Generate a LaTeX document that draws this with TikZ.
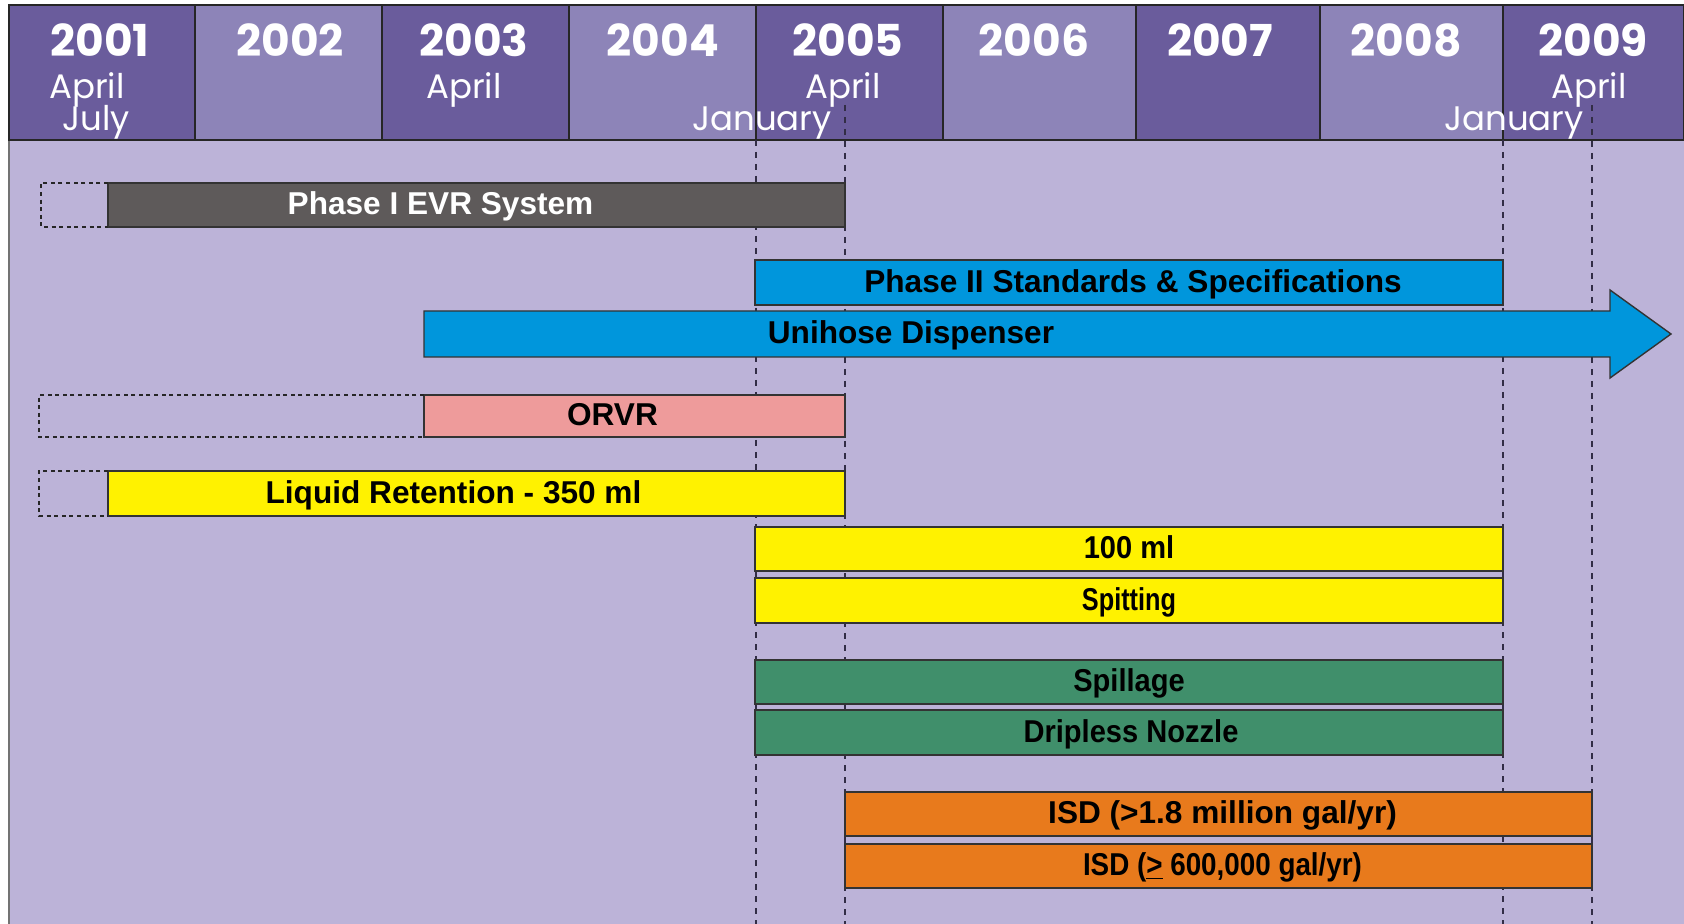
\documentclass[tikz,border=0pt]{standalone}
\usepackage{fontspec}
\setmainfont{Liberation Sans}
\newfontfamily\hdfont{Poppins}
\newfontfamily\narrowfont[FakeStretch=0.92]{Liberation Sans}
\newfontfamily\narrowisdfont[FakeStretch=0.88]{Liberation Sans}
\newfontfamily\narrowerfont[FakeStretch=0.8]{Liberation Sans}
\definecolor{hdark}{RGB}{106,92,156}
\definecolor{hlight}{RGB}{141,132,184}
\definecolor{bodyc}{RGB}{188,179,216}
\definecolor{evrgray}{RGB}{94,90,90}
\definecolor{stdblue}{RGB}{0,150,220}
\definecolor{orvrpink}{RGB}{238,155,155}
\definecolor{lqyellow}{RGB}{255,242,0}
\definecolor{spgreen}{RGB}{64,143,107}
\definecolor{isdorange}{RGB}{232,122,28}
\definecolor{guidec}{RGB}{50,45,70}
\newcommand\gbar[6]{\node[bar, fill=#6, minimum width={(#4-#2)*0.5pt}, minimum height={(#5-#3)*0.5pt}] (#1) at (#2,#3) {};}
\tikzset{
  cell/.style={draw=black!85, line width=0.6pt},
  yr/.style={font=\hdfont\bfseries\fontsize{22}{22}\selectfont, text=white, anchor=base, inner sep=0},
  mon/.style={font=\hdfont\fontsize{17}{17}\selectfont, text=white, anchor=base, inner sep=0},
  bar/.style={draw=black!80, line width=0.7pt, inner sep=0, outer sep=0, anchor=north west},
  lbl/.style={font=\bfseries\fontsize{15.8}{16}\selectfont, text=black, inner sep=0, text height=11.3pt, text depth=0pt, yshift=0.8pt},
  lbln/.style={lbl, font=\narrowfont\bfseries\fontsize{15.8}{16}\selectfont},
  lbli/.style={lbl, font=\narrowisdfont\bfseries\fontsize{15.8}{16}\selectfont},
  lblnn/.style={lbl, font=\narrowerfont\bfseries\fontsize{15.8}{16}\selectfont},
  vguide/.style={draw=guidec, line width=1pt, dash pattern=on 3pt off 3pt},
  ghost/.style={draw=black!85, line width=0.7pt, dash pattern=on 2pt off 1.8pt},
}
\begin{document}
\begin{tikzpicture}[x=0.5pt,y=-0.5pt]
\useasboundingbox (0,0) rectangle (1684,924);
\fill[white] (0,0) rectangle (1684,924);
\fill[bodyc] (9,140) rectangle (1684,924);
\draw[black!55, line width=0.8pt] (9,924) -- (9,140);
% header cells
\foreach \a/\b/\c in {9/195/hdark,195/382/hlight,382/569/hdark,569/756/hlight,756/943/hdark,943/1136/hlight,1136/1320/hdark,1320/1503/hlight,1503/1684/hdark}
  \draw[cell, fill=\c] (\a,5) rectangle (\b,140);
% guide lines
\draw[vguide] (756,140) -- (756,924);
\draw[vguide] (845,105) -- (845,924);
\draw[vguide] (1503,140) -- (1503,924);
\draw[vguide] (1592,105) -- (1592,924);
% header texts
\node[yr] (y2001) at (100,57) {2001};
\node[yr] (y2002) at (290,57) {2002};
\node[yr] (y2003) at (474,57) {2003};
\node[yr] (y2004) at (663,57) {2004};
\node[yr] (y2005) at (848,57) {2005};
\node[yr] (y2006) at (1034,57) {2006};
\node[yr] (y2007) at (1220,57) {2007};
\node[yr] (y2008) at (1406,57) {2008};
\node[yr] (y2009) at (1593,57) {2009};
\node[mon] (m01a) at (87,99) {April};
\node[mon] (m01j) at (96,131) {July};
\node[mon] (m03a) at (464,99) {April};
\node[mon] (m05a) at (843,99) {April};
\node[mon] (m05j) at (762,131) {January};
\node[mon] (m09a) at (1589,99) {April};
\node[mon] (m09j) at (1514,131) {January};
% bars
\gbar{phase1}{108}{183}{845}{227}{evrgray}
\gbar{phase2}{755}{260}{1503}{305}{stdblue}
\gbar{orvr}{424}{395}{845}{437}{orvrpink}
\gbar{liquid}{108}{471}{845}{516}{lqyellow}
\gbar{ml100}{755}{527}{1503}{571}{lqyellow}
\gbar{spit}{755}{578}{1503}{623}{lqyellow}
\gbar{spill}{755}{660}{1503}{704}{spgreen}
\gbar{drip}{755}{710}{1503}{755}{spgreen}
\gbar{isd1}{845}{792}{1592}{836}{isdorange}
\gbar{isd2}{845}{844}{1592}{888}{isdorange}
% unihose arrow
\draw[draw=black!80, line width=0.7pt, fill=stdblue] (424,311) -- (1610,311) -- (1610,290) -- (1671,334) -- (1610,378) -- (1610,357) -- (424,357) -- cycle;
% ghost (earlier) extents
\draw[ghost] (phase1.north west) -| (41,227) -- (phase1.south west);
\draw[ghost] (orvr.north west) -| (39,437) -- (orvr.south west);
\draw[ghost] (liquid.north west) -| (39,516) -- (liquid.south west);
% labels
\node[lbl, text=white] (phase1t) at ([xshift=-18pt]phase1.center) {Phase I EVR System};
\node[lbl] (phase2t) at ([xshift=2pt]phase2.center) {Phase II Standards \& Specifications};
\node[lbl] (unihoset) at (911,334) {Unihose Dispenser};
\node[lbl] (orvrt) at ([xshift=-11pt]orvr.center) {ORVR};
\node[lbl] (liquidt) at ([xshift=-11.5pt]liquid.center) {Liquid Retention - 350 ml};
\node[lbln] (ml100t) at (ml100.center) {100 ml};
\node[lblnn] (spitt) at (spit.center) {Spitting};
\node[lbln] (spillt) at (spill.center) {Spillage};
\node[lbln] (dript) at ([xshift=1pt]drip.center) {Dripless Nozzle};
\node[lbl] (isd1t) at ([xshift=2pt]isd1.center) {ISD (>1.8 million gal/yr)};
\node[lbli] (isd2t) at ([xshift=2pt]isd2.center) {ISD (\underline{>} 600,000 gal/yr)};
\end{tikzpicture}
\end{document}
